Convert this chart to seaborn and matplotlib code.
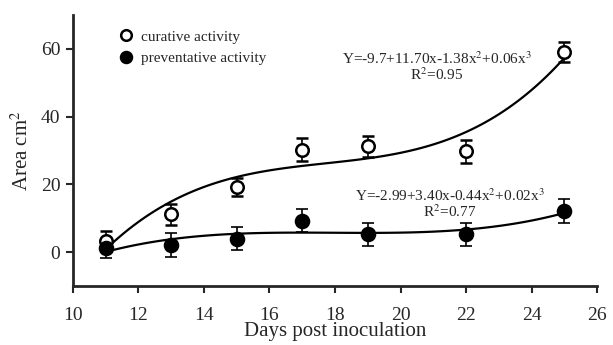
import numpy as np
import pandas as pd
import matplotlib
matplotlib.use("Agg")
import matplotlib.pyplot as plt
import seaborn as sns

days = [11, 13, 15, 17, 19, 22, 25]
curative = [3.2, 11.1, 19.2, 30.2, 31.2, 29.7, 59.1]
curative_err = [3.0, 3.0, 2.7, 3.4, 3.0, 3.4, 3.0]
preventative = [1.1, 2.0, 4.0, 9.3, 5.2, 5.2, 12.1]
preventative_err = [2.8, 3.5, 3.4, 3.5, 3.4, 3.5, 3.6]
x_ticks = [10, 12, 14, 16, 18, 20, 22, 24, 26]
y_ticks = [0, 20, 40, 60]
eq_curative = "Y=-9.7+11.70x-1.38x$^{2}$+0.06x$^{3}$\nR$^{2}$=0.95"
eq_prevent = "Y=-2.99+3.40x-0.44x$^{2}$+0.02x$^{3}$\nR$^{2}$=0.77"

sns.set_style("ticks")
plt.rcParams['font.family'] = ['Liberation Serif', 'DejaVu Serif']
plt.rcParams['mathtext.fontset'] = 'stix'

df = pd.DataFrame({"days": days, "curative": curative, "preventative": preventative})

fig = plt.figure(figsize=(6.13, 3.45), dpi=100)
ax = fig.add_axes([0.119, 0.171, 0.855, 0.786])

sns.regplot(data=df, x="days", y="curative", order=3, ci=None, scatter=False,
            color="black", line_kws={"lw": 1.6}, ax=ax)
sns.regplot(data=df, x="days", y="preventative", order=3, ci=None, scatter=False,
            color="black", line_kws={"lw": 1.6}, ax=ax)

ax.errorbar(days, curative, yerr=curative_err, fmt="o", mfc="white", mec="black",
            mew=1.8, ms=9, ecolor="black", elinewidth=1.2, capsize=4, capthick=1.2,
            zorder=5, label="curative activity")
ax.errorbar(days, preventative, yerr=preventative_err, fmt="o", mfc="black", mec="black",
            mew=1.2, ms=10, ecolor="black", elinewidth=1.2, capsize=4, capthick=1.2,
            zorder=5, label="preventative activity")

ax.set_xlim(10, 26)
ax.set_ylim(-10, 70)
ax.set_xticks(x_ticks)
ax.set_yticks(y_ticks)
ax.tick_params(axis="both", labelsize=14, width=1.5, length=5, direction="out")
ax.tick_params(axis="x", pad=10)
ax.tick_params(axis="y", pad=4)
for s in ["left", "bottom"]:
    ax.spines[s].set_linewidth(2)
sns.despine(ax=ax)

ax.set_xlabel("Days post inoculation", fontsize=15, labelpad=-1)
ax.set_ylabel("Area cm$^{2}$", fontsize=15, labelpad=6)

h, l = ax.get_legend_handles_labels()
h = [hh[0] for hh in h]
leg = ax.legend(h, l, loc="upper left", bbox_to_anchor=(0.06, 0.995), frameon=False,
                fontsize=11, handletextpad=0.5, labelspacing=0.5, handlelength=1.0,
                markerscale=0.85)

ax.text(21.1, 59.6, eq_curative, ha="center", va="top", fontsize=11, linespacing=1.0)
ax.text(21.5, 19.2, eq_prevent, ha="center", va="top", fontsize=11, linespacing=1.0)

fig.savefig("out.png", dpi=100)
